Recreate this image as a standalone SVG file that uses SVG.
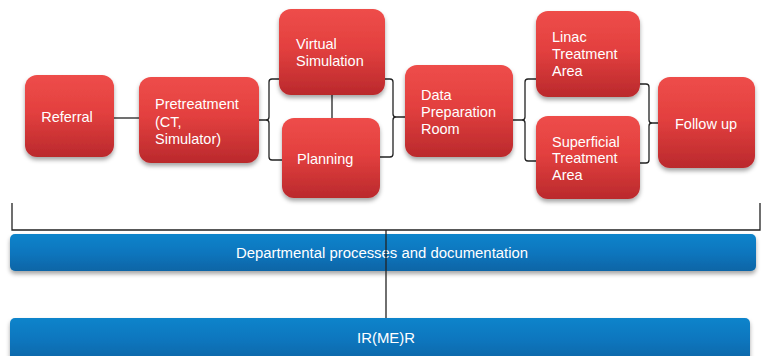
<svg xmlns="http://www.w3.org/2000/svg" width="764" height="356" viewBox="0 0 764 356">
  <defs>
    <linearGradient id="redFill" x1="0" y1="0" x2="0" y2="1">
      <stop offset="0" stop-color="#EE4D4A"/>
      <stop offset="0.45" stop-color="#E3403F"/>
      <stop offset="1" stop-color="#BA292C"/>
    </linearGradient>
    <linearGradient id="blueFill" x1="0" y1="0" x2="0" y2="1">
      <stop offset="0" stop-color="#1184CB"/>
      <stop offset="0.5" stop-color="#0A76BE"/>
      <stop offset="1" stop-color="#0A65A6"/>
    </linearGradient>
    <filter id="shadow" x="-10%" y="-10%" width="120%" height="130%">
      <feDropShadow dx="0" dy="3" stdDeviation="2" flood-color="#000" flood-opacity="0.35"/>
    </filter>
  </defs>
  <style>
    .box { fill: url(#redFill); filter: url(#shadow); }
    .bar { fill: url(#blueFill); filter: url(#shadow); }
    .lbl { font-family: "Liberation Sans", Arial, sans-serif; font-size: 14.5px; fill: #FFFFFF; }
    .barlbl { font-size: 14.9px; }
    .link { fill: none; stroke: #222; stroke-width: 1.3; }
  </style>

  <rect width="764" height="356" fill="#FFFFFF"/>

  <!-- connectors -->
  <g id="connectors">
    <line class="link" x1="114" y1="118" x2="139" y2="118"/>
    <path class="link" d="M279,79 H272 Q269,79 269,82 V117 Q269,120 266,120 H259 M266,120 Q269,120 269,123 V157 Q269,160 272,160 H282"/>
    <line class="link" x1="332" y1="95" x2="332" y2="118"/>
    <path class="link" d="M385,79 H390 Q393,79 393,82 V114 Q393,117 396,117 H405 M396,117 Q393,117 393,120 V154 Q393,157 390,157 H380"/>
    <path class="link" d="M536,79 H528 Q525,79 525,82 V117 Q525,120 522,120 H513 M522,120 Q525,120 525,123 V158 Q525,161 528,161 H536"/>
    <path class="link" d="M640,84 H646 Q649,84 649,87 V120 Q649,123 652,123 H658 M652,123 Q649,123 649,126 V160 Q649,163 646,163 H640"/>
    <path class="link" d="M12,203 V230 H760 V203"/>
  </g>

  <!-- process steps -->
  <g id="referral">
    <rect class="box" x="25" y="75" width="89" height="82" rx="12"/>
    <text class="lbl" x="67" y="122" text-anchor="middle">Referral</text>
  </g>
  <g id="pretreatment">
    <rect class="box" x="139" y="77" width="120" height="86" rx="12"/>
    <text class="lbl" x="155" y="109">Pretreatment</text>
    <text class="lbl" x="155" y="127">(CT,</text>
    <text class="lbl" x="155" y="144">Simulator)</text>
  </g>
  <g id="virtual-simulation">
    <rect class="box" x="279" y="9" width="106" height="86" rx="12"/>
    <text class="lbl" x="296" y="49">Virtual</text>
    <text class="lbl" x="296" y="66">Simulation</text>
  </g>
  <g id="planning">
    <rect class="box" x="282" y="118" width="98" height="80" rx="12"/>
    <text class="lbl" x="297" y="164">Planning</text>
  </g>
  <g id="data-preparation">
    <rect class="box" x="405" y="65" width="108" height="92" rx="12"/>
    <text class="lbl" x="421" y="100">Data</text>
    <text class="lbl" x="421" y="117">Preparation</text>
    <text class="lbl" x="421" y="134">Room</text>
  </g>
  <g id="linac">
    <rect class="box" x="536" y="11" width="104" height="86" rx="12"/>
    <text class="lbl" x="552" y="42">Linac</text>
    <text class="lbl" x="552" y="59">Treatment</text>
    <text class="lbl" x="552" y="76">Area</text>
  </g>
  <g id="superficial">
    <rect class="box" x="536" y="116" width="104" height="83" rx="12"/>
    <text class="lbl" x="552" y="147">Superficial</text>
    <text class="lbl" x="552" y="163">Treatment</text>
    <text class="lbl" x="552" y="180">Area</text>
  </g>
  <g id="follow-up">
    <rect class="box" x="658" y="77" width="97" height="91" rx="12"/>
    <text class="lbl" x="706" y="129" text-anchor="middle">Follow up</text>
  </g>

  <!-- framework bars -->
  <g id="departmental">
    <rect class="bar" x="10" y="234" width="746" height="37" rx="5"/>
    <text class="lbl barlbl" x="382" y="258" text-anchor="middle">Departmental processes and documentation</text>
  </g>
  <g id="irmer">
    <rect class="bar" x="10" y="318" width="740" height="44" rx="5"/>
    <text class="lbl barlbl" x="386" y="343" text-anchor="middle">IR(ME)R</text>
  </g>

  <!-- link between the two bars, drawn over the upper bar -->
  <g id="bar-link">
    <line class="link" x1="386" y1="230" x2="386" y2="318"/>
  </g>
</svg>
